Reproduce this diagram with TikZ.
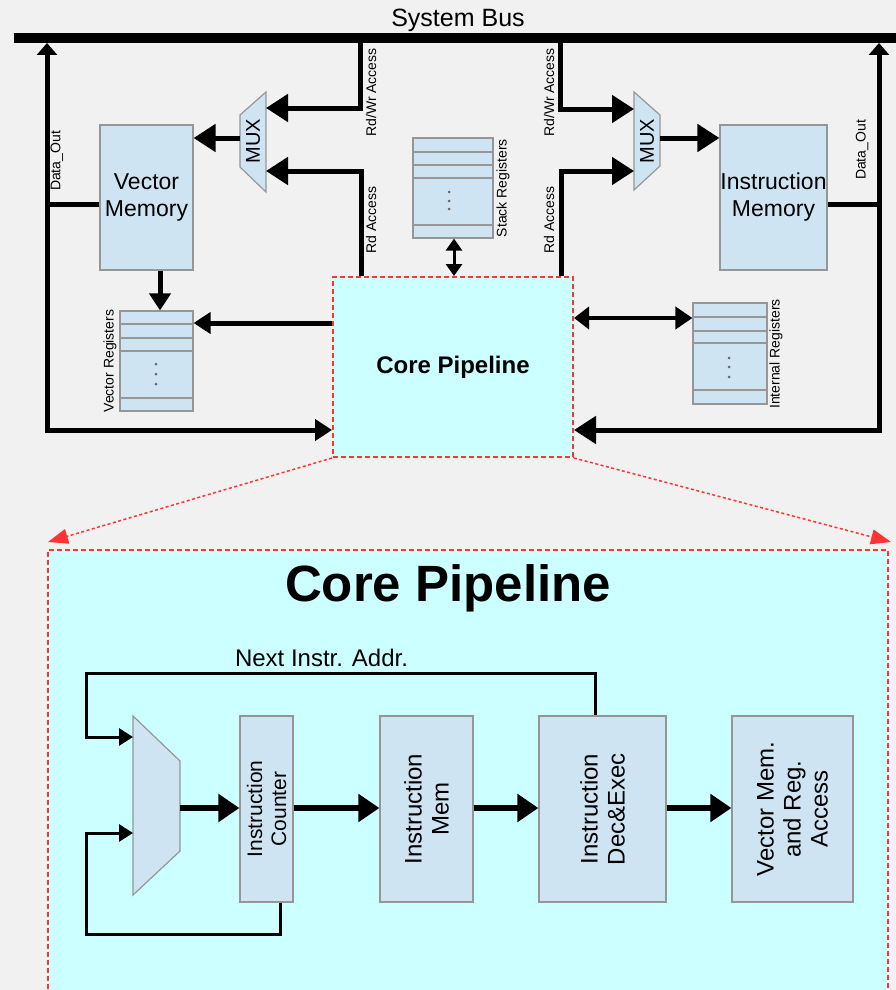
\documentclass[tikz,border=0pt]{standalone}
\usepackage{fontspec}
\setmainfont{Liberation Sans}
\usetikzlibrary{arrows.meta}
\definecolor{bg}{RGB}{241,241,241}
\definecolor{boxfill}{RGB}{207,228,243}
\definecolor{boxline}{RGB}{150,150,150}
\definecolor{cyanfill}{RGB}{204,255,255}
\definecolor{reddash}{RGB}{255,51,51}
\newcommand\myfs[2]{\fontsize{#1}{#2}\selectfont}
\tikzset{
  blk/.style={draw=boxline, fill=boxfill, line width=1.2pt, inner sep=0pt},
  regline/.style={draw=boxline, line width=1.2pt},
  muxshape/.style={draw=boxline, fill=boxfill, line width=1.2pt},
  corebox/.style={fill=cyanfill, inner sep=0pt,
    preaction={draw=boxline, line width=0.8pt},
    draw=reddash, line width=2pt, dash pattern=on 5pt off 3pt},
  wire/.style={line width=5pt},
  arrA/.style={wire, -{Triangle[length=22pt,width=27pt]}},
  arrB/.style={wire, -{Triangle[length=17pt,width=21pt]}},
  arrBus/.style={wire, {Triangle[length=12pt,width=20pt]}-{Triangle[length=17pt,width=21pt]}},
  arrBusR/.style={wire, {Triangle[length=12pt,width=20pt]}-{Triangle[length=22pt,width=27pt]}},
  dblA/.style={line width=4pt, {Triangle[length=15pt,width=22pt]}-{Triangle[length=17pt,width=22pt]}},
  dblS/.style={line width=3pt, {Triangle[length=12pt,width=16pt]}-{Triangle[length=12pt,width=16pt]}},
  thickarr/.style={line width=6pt, -{Triangle[length=21pt,width=27pt]}},
  thinarr/.style={line width=3pt, -{Triangle[length=14pt,width=17pt]}},
  zoomline/.style={draw=reddash, line width=1.5pt, dash pattern=on 3pt off 2.5pt,
    -{Triangle[length=20pt,width=15pt]}},
  vlabel/.style={rotate=90, font=\myfs{14}{16}, inner sep=0pt},
  boxtext/.style={align=center, font=\myfs{23}{27}},
  rottext/.style={rotate=90, align=center, font=\myfs{24}{27}},
  regdot/.style={fill=gray!80!black},
}
\begin{document}
\begin{tikzpicture}[x=1pt,y=-1pt]
\useasboundingbox (0,0) rectangle (896,990);
\fill[bg] (0,0) rectangle (896,990);
\clip (0,0) rectangle (896,990);

% ---------- system bus ----------
\coordinate (busL) at (14,38);
\coordinate (busR) at (896,38);
\draw[line width=10pt] (busL) -- (busR);
\node[font=\myfs{25}{28}] (busT) at (458,20) {System Bus};

% ---------- core pipeline (small) ----------
\node[corebox, minimum width=240, minimum height=180] (core) at (453,367) {};
\node[font=\bfseries\myfs{24}{28}] (coreT) at (core) {Core Pipeline};

% ---------- memories ----------
\node[blk, minimum width=93, minimum height=145] (vm) at (146.5,197.5) {};
\node[boxtext] (vmT) at (vm) {Vector\\Memory};
\node[blk, minimum width=107, minimum height=145] (im) at (773.5,197.5) {};
\node[boxtext] (imT) at (im) {Instruction\\Memory};

% ---------- stack registers ----------
\node[blk, minimum width=80, minimum height=100] (sr) at (453,188) {};
\foreach \yy in {152,165,178,225} \draw[regline] (sr.west |- 0,\yy) -- (sr.east |- 0,\yy);
\foreach \yy in {192,201,209} \fill[regdot] (449,\yy) circle (1.5);
\node[vlabel] (srT) at (503,188) {Stack Registers};

% ---------- vector registers ----------
\node[blk, minimum width=73, minimum height=100] (vr) at (156.5,361) {};
\foreach \yy in {324,338,351,398} \draw[regline] (vr.west |- 0,\yy) -- (vr.east |- 0,\yy);
\foreach \yy in {364,374,384} \fill[regdot] (156,\yy) circle (1.5);
\node[vlabel] (vrT) at (110,361) {Vector Registers};

% ---------- internal registers ----------
\node[blk, minimum width=74, minimum height=101] (ir) at (730,353.5) {};
\foreach \yy in {317,331,343,390} \draw[regline] (ir.west |- 0,\yy) -- (ir.east |- 0,\yy);
\foreach \yy in {358,367,377} \fill[regdot] (729,\yy) circle (1.5);
\node[vlabel] (irT) at (776,354) {Internal Registers};

% ---------- muxes ----------
\coordinate (mlA) at (240,115); \coordinate (mlB) at (266,92);
\coordinate (mlC) at (266,192); \coordinate (mlD) at (240,167);
\draw[muxshape] (mlA) -- (mlB) -- (mlC) -- (mlD) -- cycle;
\node[rotate=90, font=\myfs{20}{22}, inner sep=0pt] (muxL) at (253,141) {MUX};
\coordinate (mrA) at (634,92); \coordinate (mrB) at (660,115);
\coordinate (mrC) at (660,166); \coordinate (mrD) at (634,190);
\draw[muxshape] (mrA) -- (mrB) -- (mrC) -- (mrD) -- cycle;
\node[rotate=90, font=\myfs{20}{22}, inner sep=0pt] (muxR) at (647,141) {MUX};

% ---------- bus taps (left) ----------
\coordinate (dL) at (47,43);
\coordinate (dR) at (879,43);
\draw[arrBus] (dL) -- (47,430) -- (core.west |- 0,430);
\draw[wire] (vm.west |- 0,204) -- (47,204);
\node[vlabel] (doL) at (57,161) {Data\_Out};
\draw[arrA] (240,138) -- (vm.east |- 0,138);
\coordinate (rwL) at (360,43);
\draw[arrA] (rwL) -- (360,108) -- (mlB |- 0,108);
\draw[arrA] (core.north -| 361,0) -- (361,171) -- (mlB |- 0,171);
\node[vlabel] (rwLT) at (371,92.5) {Rd/Wr Access};
\node[vlabel] (rdLT) at (371,220) {Rd Access};

% ---------- bus taps (right) ----------
\coordinate (rwR) at (560,43);
\draw[arrA] (rwR) -- (560,109) -- (mrA |- 0,109);
\draw[arrA] (core.north -| 561,0) -- (561,171) -- (mrA |- 0,171);
\node[vlabel] (rwRT) at (549,92.5) {Rd/Wr Access};
\node[vlabel] (rdRT) at (549,220) {Rd Access};
\draw[arrA] (660,138) -- (im.west |- 0,138);
\draw[wire] (im.east |- 0,204) -- (879,204);
\draw[arrBusR] (dR) -- (879,430) -- (core.east |- 0,430);
\node[vlabel] (doR) at (862,150) {Data\_Out};

% ---------- core links ----------
\draw[dblA] (core.east |- 0,318) -- (ir.west |- 0,318);
\draw[arrB] (core.west |- 0,323) -- (vr.east |- 0,323);
\draw[arrB] (vm.south -| 160,0) -- (vr.north -| 160,0);
\draw[dblS] (sr.south -| 454,0) -- (core.north -| 454,0);

% ---------- zoom lines ----------
\coordinate (zL) at (48,542);
\coordinate (zR) at (891,542);
\draw[zoomline] (core.south west) -- (zL);
\draw[zoomline] (core.south east) -- (zR);

% ---------- big core pipeline ----------
\node[corebox, minimum width=840, minimum height=470, anchor=north west] (big) at (47,549) {};
\node[font=\bfseries\myfs{51}{56}] (bigT) at (448,588) {Core Pipeline};

\coordinate (bmA) at (133,716); \coordinate (bmB) at (180,761);
\coordinate (bmC) at (180,851); \coordinate (bmD) at (133,895);
\draw[muxshape] (bmA) -- (bmB) -- (bmC) -- (bmD) -- cycle;

\node[blk, minimum width=53, minimum height=186] (ic) at (266.5,809) {};
\node[rotate=90, align=center, font=\myfs{21}{24}] (icT) at (ic) {Instruction\\Counter};
\node[blk, minimum width=93, minimum height=186] (imem) at (426.5,809) {};
\node[rottext] (imemT) at (imem) {Instruction\\Mem};
\node[blk, minimum width=127, minimum height=186] (dec) at (602.5,809) {};
\node[rottext] (decT) at (dec) {Instruction\\Dec\&Exec};
\node[blk, minimum width=121, minimum height=186] (vmra) at (792.5,809) {};
\node[rottext] (vmraT) at (vmra) {Vector Mem.\\and Reg.\\Access};

\draw[thickarr] (bmB |- 0,808) -- (ic.west |- 0,808);
\draw[thickarr] (ic.east |- 0,808) -- (imem.west |- 0,808);
\draw[thickarr] (imem.east |- 0,808) -- (dec.west |- 0,808);
\draw[thickarr] (dec.east |- 0,808) -- (vmra.west |- 0,808);

\draw[thinarr] (dec.north -| 595,0) -- (595,673) -- (86,673) -- (86,737) -- (bmA |- 0,737);
\draw[thinarr] (ic.south -| 280,0) -- (280,934) -- (86,934) -- (86,833) -- (bmA |- 0,833);
\node[font=\myfs{24}{28}] (nia) at (321.5,658) {Next Instr. Addr.};
\end{tikzpicture}
\end{document}
